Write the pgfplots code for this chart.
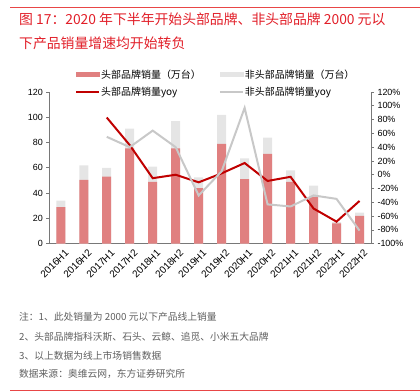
\documentclass[border=0pt]{standalone}
\usepackage{pgfplots}
\pgfplotsset{compat=1.18}
\usepackage{pgfplotstable}
\usepackage{fontspec}
\setmainfont{Liberation Sans}
\newfontfamily\cjk{Noto Sans CJK SC}
\definecolor{redbar}{RGB}{224,128,128}
\definecolor{graybar}{RGB}{229,229,229}
\definecolor{redline}{RGB}{192,0,0}
\definecolor{grayline}{RGB}{200,200,200}
\definecolor{titlered}{RGB}{225,30,40}
\definecolor{rulered}{RGB}{232,70,70}
\definecolor{axgray}{RGB}{120,120,120}
\definecolor{notegray}{RGB}{95,95,95}

\pgfplotstableread{
x total head
0 34 29
1 62 50.5
2 60 53
3 91 75.5
4 61 49
5 97 75.5
6 52.5 44
7 102 79
8 67.5 51
9 84 71
10 58 49
11 46 37
12 17 16
13 24.5 22
}\bars

\pgfplotstableread{
x head nonhead
2 83 55
3 43 40
4 -5 64
5 0 40
6 -11 -30
7 2 5
8 17 97
9 -9 -43
10 -3 -46
11 -49 -30
12 -68 -35
13 -38 -81
}\yoy

\pgfplotsset{
  base/.style={
    at={(49.3bp,147.3bp)}, anchor=south west, scale only axis,
    width=321.7bp, height=151.7bp,
    xmin=-0.5, xmax=13.5,
    axis line style={axgray, line width=0.7bp},
    tick style={axgray, line width=0.7bp},
    major tick length=3bp,
    tick align=outside,
    tick label style={font=\fontsize{9}{10}\selectfont, text=black},
    /pgf/number format/assume math mode=true,
  }
}

\begin{document}
\begin{tikzpicture}
\path[use as bounding box] (0bp,0bp) rectangle (420bp,391bp);
% title
\draw[rulered, line width=0.8bp] (10bp,384bp) -- (420bp,384bp);
\node[anchor=west, inner sep=0, text=titlered, font=\cjk\fontsize{13.9}{14}\selectfont] at (19bp,372bp) {图 17：2020 年下半年开始头部品牌、非头部品牌 2000 元以};
\node[anchor=west, inner sep=0, text=titlered, font=\cjk\fontsize{13.9}{14}\selectfont] at (19bp,347.7bp) {下产品销量增速均开始转负};

\begin{axis}[base,
  ymin=0, ymax=120, ytick={0,20,...,120},
  axis x line*=bottom, axis y line*=left,
  xtick={0,...,13},
  xticklabels={2016H1,2016H2,2017H1,2017H2,2018H1,2018H2,2019H1,2019H2,2020H1,2020H2,2021H1,2021H2,2022H1,2022H2},
  x tick label style={rotate=45, anchor=north east, inner sep=1bp, yshift=-3bp, xshift=2bp, font=\fontsize{10}{11}\selectfont},
  major x tick style={draw=none},
  extra x ticks={-0.5,0.5,1.5,2.5,3.5,4.5,5.5,6.5,7.5,8.5,9.5,10.5,11.5,12.5,13.5},
  extra x tick labels={},
  extra x tick style={major x tick style={axgray, line width=0.7bp}},
]
\addplot[ybar, bar width=9bp, bar shift=0pt, fill=graybar, draw=none] table[x=x,y=total]{\bars};
\addplot[ybar, bar width=9bp, bar shift=0pt, fill=redbar, draw=none] table[x=x,y=head]{\bars};
\end{axis}

\begin{axis}[base,
  ymin=-100, ymax=120, ytick={-100,-80,...,120},
  yticklabel={\pgfmathprintnumber{\tick}\%},
  axis y line*=right, axis x line=none,
  legend columns=2,
  legend cell align=left,
  legend style={at={(0.08,1.155)}, anchor=north west, draw=none, fill=none,
    inner sep=0pt, row sep=5bp,
    font=\cjk\fontsize{10}{12}\selectfont,
    nodes={inner xsep=1bp, inner ysep=1bp},
    /tikz/every even column/.append style={column sep=17bp}},
]
\addlegendimage{legend image code/.code={\fill[redbar] (0bp,-2bp) rectangle (23bp,2bp);}}
\addlegendentry{头部品牌销量（万台）}
\addlegendimage{legend image code/.code={\fill[graybar] (0bp,-2bp) rectangle (23bp,2bp);}}
\addlegendentry{非头部品牌销量（万台）}
\addplot[redline, line width=2bp, mark=none,
  legend image code/.code={\draw[redline, line width=2bp] (0bp,0bp) -- (23bp,0bp);}]
  table[x=x,y=head]{\yoy};
\addlegendentry{头部品牌销量yoy}
\addplot[grayline, line width=2bp, mark=none,
  legend image code/.code={\draw[grayline, line width=2bp] (0bp,0bp) -- (23bp,0bp);}]
  table[x=x,y=nonhead]{\yoy};
\addlegendentry{非头部品牌销量yoy}
\end{axis}

% notes
\begin{scope}[every node/.style={anchor=west, inner sep=0, text=notegray, font=\cjk\fontsize{9.8}{10}\selectfont}]
\node at (19bp,74.3bp) {注：1、此处销量为 2000 元以下产品线上销量};
\node at (19bp,54.5bp) {2、头部品牌指科沃斯、石头、云鲸、追觅、小米五大品牌};
\node at (19bp,35.5bp) {3、以上数据为线上市场销售数据};
\node at (19bp,17.5bp) {数据来源：奥维云网，东方证券研究所};
\end{scope}
\draw[rulered, line width=0.8bp] (10bp,1bp) -- (420bp,1bp);
\end{tikzpicture}
\end{document}
